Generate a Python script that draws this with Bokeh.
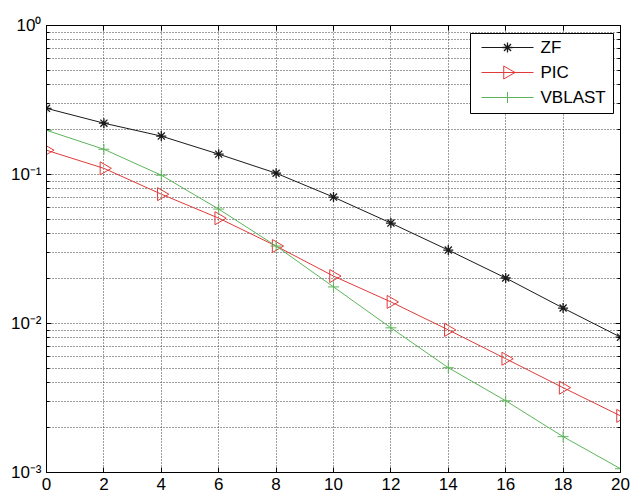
from bokeh.plotting import figure
from bokeh.models import (FixedTicker, CustomJSTickFormatter, LogAxis, LinearAxis,
                          Range1d, LinearScale)
from bokeh.core.properties import value
from bokeh.embed import file_html
from bokeh.resources import INLINE
import math

snr = [0, 2, 4, 6, 8, 10, 12, 14, 16, 18, 20]
zf = [0.278, 0.221, 0.181, 0.137, 0.102, 0.0705, 0.0472, 0.0311, 0.0202, 0.0127, 0.0081]
pic = [0.1455, 0.110, 0.0738, 0.0509, 0.0331, 0.0208, 0.01396, 0.00906, 0.0058, 0.00371, 0.0024]
vblast = [0.198, 0.1477, 0.0989, 0.0586, 0.0331, 0.0176, 0.00935, 0.00505, 0.00303, 0.00174, 0.00106]
labels = ["ZF", "PIC", "VBLAST"]

x_ticks = [0, 2, 4, 6, 8, 10, 12, 14, 16, 18, 20]
y_major = [1e-3, 1e-2, 1e-1, 1e0]
y_minor = [m * d for d in [1e-3, 1e-2, 1e-1] for m in range(2, 10)]

FONT = "Liberation Sans"
BLACK = "#1a1a1a"
RED = "#e03a3a"
GREEN = "#5cb55a"
GRID = "#3a3a3a"

FW, FH = 574, 447  # plot frame size in px

p = figure(frame_width=FW, frame_height=FH, y_axis_type="log", x_range=(0, 20), y_range=(1e-3, 1),
           output_backend="svg", toolbar_location=None,
           min_border_left=46, min_border_right=10, min_border_top=25, min_border_bottom=10)
p.outline_line_color = "black"
p.outline_line_width = 1

# pixel-coordinate ranges used only to place the legend box inside the frame
p.extra_x_ranges = {"lx": Range1d(0, FW)}
p.extra_y_ranges = {"ly": Range1d(0, FH)}
p.extra_x_scales = {"lx": LinearScale()}
p.extra_y_scales = {"ly": LinearScale()}

p.xaxis.ticker = FixedTicker(ticks=x_ticks)
p.yaxis.ticker = FixedTicker(ticks=y_major, minor_ticks=y_minor)
p.yaxis.formatter = CustomJSTickFormatter(code="""
const e = Math.round(Math.log10(tick));
const sup = {'-':'\u207b','0':'\u2070','1':'\u00b9','2':'\u00b2','3':'\u00b3'};
return '10' + String(e).split('').map(c => sup[c]).join('');
""")

for ax in [p.xaxis[0], p.yaxis[0]]:
    ax.major_label_text_font = FONT
    ax.major_label_text_font_size = "17px"
    ax.major_label_text_color = "black"
    ax.major_tick_in = 5
    ax.major_tick_out = 0
    ax.minor_tick_in = 3
    ax.minor_tick_out = 0
    ax.axis_line_color = "black"
    ax.major_tick_line_color = "black"
    ax.minor_tick_line_color = "black"
    ax.major_label_standoff = 5

# mirrored axes (ticks only) on right and top
ra = LogAxis(ticker=FixedTicker(ticks=y_major, minor_ticks=y_minor),
             major_label_text_font_size="1px", major_label_text_alpha=0, major_label_standoff=0,
             major_tick_in=5, major_tick_out=0, minor_tick_in=3, minor_tick_out=0)
ta = LinearAxis(ticker=FixedTicker(ticks=x_ticks),
                major_label_text_font_size="1px", major_label_text_alpha=0, major_label_standoff=0,
                major_tick_in=5, major_tick_out=0, minor_tick_in=0, minor_tick_out=0)
p.add_layout(ra, "right")
p.add_layout(ta, "above")

p.xgrid.grid_line_color = GRID
p.xgrid.grid_line_dash = "1 2"
p.xgrid.grid_line_width = 1
p.ygrid.grid_line_color = GRID
p.ygrid.grid_line_dash = "1 2"
p.ygrid.grid_line_width = 1
p.ygrid.minor_grid_line_color = GRID
p.ygrid.minor_grid_line_dash = "1 2"
p.ygrid.minor_grid_line_width = 1

colors = [BLACK, RED, GREEN]
markers = ["asterisk", "triangle", "cross"]
angles = [0, -math.pi / 2, 0]
msizes = [10, 13, 11]
mwidths = [1.3, 1, 1]

for ys, c, mk, ang, ms, mw in zip([zf, pic, vblast], colors, markers, angles, msizes, mwidths):
    p.line(snr, ys, line_color=c, line_width=1)
    p.scatter(snr, ys, marker=mk, angle=ang, size=ms, line_color=c, fill_alpha=0, line_width=mw)

# legend (frame pixel coordinates)
LB_L, LB_R, LB_T, LB_B = 424, 567, 439, 359
rows = [LB_T - 14 - 25 * i for i in range(3)]
p.quad(left=[LB_L], right=[LB_R], bottom=[LB_B], top=[LB_T], fill_color="white",
       line_color="black", line_width=1, x_range_name="lx", y_range_name="ly")
for r, c, mk, ang, ms, mw in zip(rows, colors, markers, angles, msizes, mwidths):
    p.segment(x0=[LB_L + 11], x1=[LB_L + 63], y0=[r], y1=[r], line_color=c, line_width=1,
              x_range_name="lx", y_range_name="ly")
    p.scatter([LB_L + 37], [r], marker=mk, angle=ang, size=ms, line_color=c, fill_alpha=0,
              line_width=mw, x_range_name="lx", y_range_name="ly")
p.text(x=[LB_L + 70] * 3, y=rows, text=labels, text_font=value(FONT), text_font_size="17px",
       text_baseline="middle", text_align="left", text_color="black",
       x_range_name="lx", y_range_name="ly")

open("out.html", "w").write(file_html(p, INLINE))
